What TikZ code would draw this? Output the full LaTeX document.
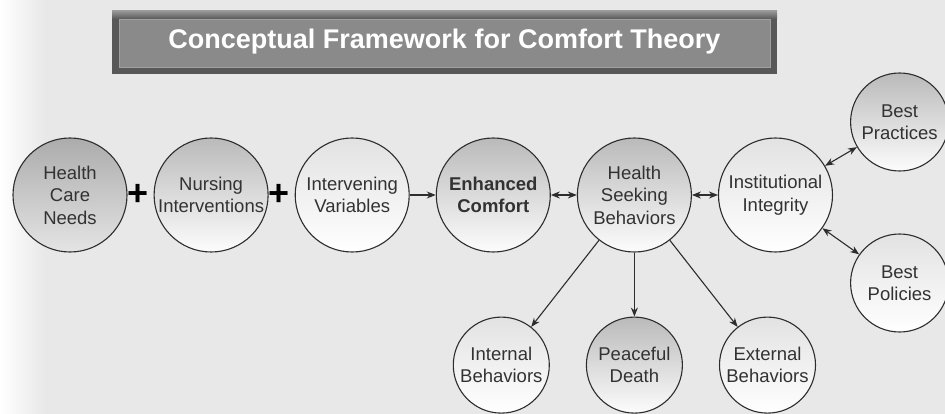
\documentclass[tikz,border=0pt]{standalone}
\usepackage{fontspec}
\setmainfont{Liberation Sans}
\usetikzlibrary{positioning,calc,arrows.meta}

\definecolor{bgcol}{RGB}{232,232,232}
\definecolor{titledark}{RGB}{88,88,88}
\definecolor{titlefill}{RGB}{138,138,138}
\definecolor{linecol}{RGB}{45,45,45}
\definecolor{textcol}{RGB}{50,50,50}

\begin{document}
\begin{tikzpicture}[x=1pt, y=1pt]
    \tikzset{bubble/.style={circle, draw=linecol, line width=1.1pt, text=textcol, align=center,
                            font=\fontsize{18.5}{22.5}\selectfont, inner sep=0pt, shading angle=45},
             bigbubble/.style={bubble, minimum size=114pt},
             smallbubble/.style={bubble, minimum size=96pt},
             darkbubble/.style={top color={rgb,255:red,172;green,172;blue,172},
                                middle color={rgb,255:red,196;green,196;blue,196},
                                bottom color={rgb,255:red,228;green,228;blue,228}},
             graybubble/.style={top color={rgb,255:red,186;green,186;blue,186},
                                middle color={rgb,255:red,218;green,218;blue,218},
                                bottom color={rgb,255:red,252;green,252;blue,252}},
             whitebubble/.style={top color={rgb,255:red,226;green,226;blue,226},
                                 middle color={rgb,255:red,250;green,250;blue,250},
                                 bottom color=white},
             plus/.style={font=\bfseries\fontsize{36}{36}\selectfont, text=black, inner sep=0pt},
             myarrow/.style={-{Stealth[length=9pt, width=7pt]}, draw=linecol, line width=1.1pt},
             dblarrow/.style={{Stealth[length=9pt, width=7pt]}-{Stealth[length=9pt, width=7pt]}, draw=linecol, line width=1.1pt}}

    % background
    \fill[bgcol] (0,0) rectangle (945,-414);
    \shade[left color=white, right color=bgcol] (0,0) rectangle (45,-414);
    \useasboundingbox (0,0) rectangle (945,-414);

    % title
    \fill[titledark] (112,-11) rectangle (777,-74);
    \shade[top color={rgb,255:red,150;green,150;blue,150}, bottom color=titledark] (112,-11) rectangle (777,-19);
    \filldraw[fill=titlefill, draw={rgb,255:red,160;green,160;blue,160}, line width=0.6pt] (119,-19) rectangle (770,-67);
    \node[text=white, font=\bfseries\fontsize{27}{27}\selectfont] (title) at (444.5,-42) {Conceptual Framework for Comfort Theory};

    % main row
    \node[bigbubble, darkbubble] (hcn) at (70,-195) {Health\\Care\\Needs};
    \node[bigbubble, graybubble, right=26pt of hcn] (nint) {Nursing\\Interventions};
    \node[bigbubble, whitebubble, right=26pt of nint] (ivar) {Intervening\\Variables};
    \node[bigbubble, graybubble, right=26pt of ivar, font=\bfseries\fontsize{18.5}{22.5}\selectfont] (enh) {Enhanced\\Comfort};
    \node[bigbubble, graybubble, right=26pt of enh] (hsb) {Health\\Seeking\\Behaviors};
    \node[bigbubble, whitebubble, right=26pt of hsb] (inst) {Institutional\\Integrity};

    % plus signs
    \node[plus] (plusa) at ($(hcn.east)!0.4!(nint.west)$) {+};
    \node[plus] (plusb) at ($(nint.east)!0.4!(ivar.west)$) {+};

    % outcomes
    \node[smallbubble, graybubble, below=64pt of hsb] (death) {Peaceful\\Death};
    \node[smallbubble, whitebubble, left=36pt of death] (internal) {Internal\\Behaviors};
    \node[smallbubble, whitebubble, right=36pt of death] (external) {External\\Behaviors};

    % institution side
    \node[smallbubble, graybubble, minimum size=98pt, right=17pt of inst, yshift=73pt] (bprac) {Best\\Practices};
    \node[smallbubble, whitebubble, minimum size=98pt, right=17pt of inst, yshift=-88pt] (bpol) {Best\\Policies};

    \draw[myarrow] (ivar) -- (enh);
    \draw[dblarrow] (enh) -- (hsb);
    \draw[dblarrow] (hsb) -- (inst);
    \draw[dblarrow] (inst) -- (bprac);
    \draw[dblarrow] (inst) -- (bpol);
    \draw[myarrow] (hsb) -- (internal);
    \draw[myarrow] (hsb) -- (death);
    \draw[myarrow] (hsb) -- (external);
\end{tikzpicture}
\end{document}
